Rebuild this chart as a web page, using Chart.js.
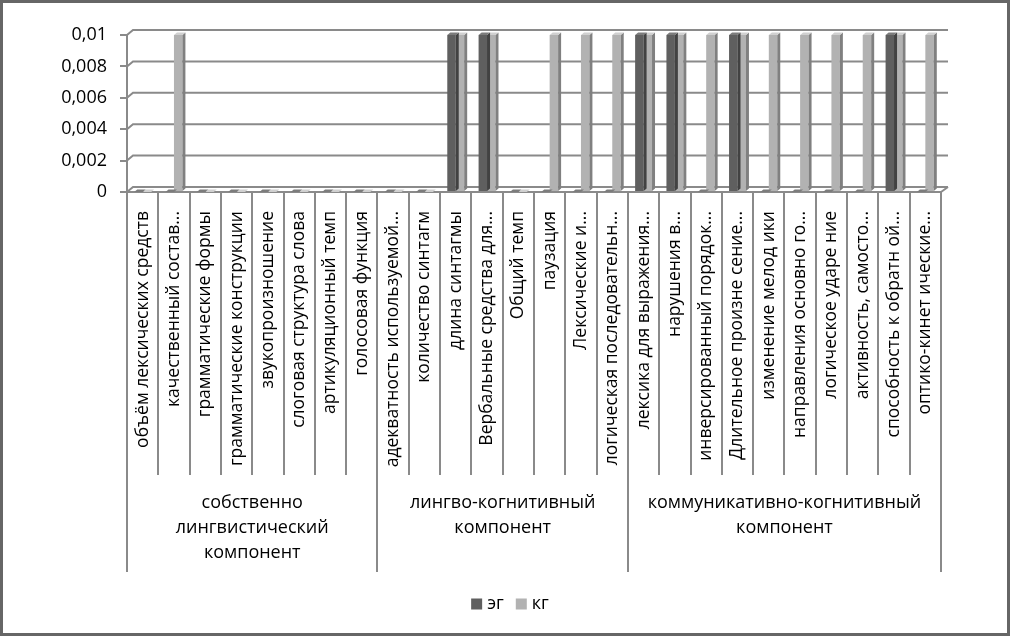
<!DOCTYPE html>
<html>
<head>
<meta charset="utf-8">
<script src="https://cdn.jsdelivr.net/npm/chart.js@4"></script>
<style>
  html, body { margin: 0; padding: 0; background: #fff; }
  #wrap { width: 1010px; height: 636px; }
</style>
</head>
<body>
<div id="wrap"><canvas id="chart" width="1010" height="636"></canvas></div>
<script>
// categories and values
const categories = [
  'объём лексических средств',
  'качественный состав...',
  'грамматические формы',
  'грамматические конструкции',
  'звукопроизношение',
  'слоговая структура слова',
  'артикуляционный темп',
  'голосовая функция',
  'адекватность используемой...',
  'количество синтагм',
  'длина синтагмы',
  'Вербальные средства для...',
  'Общий темп',
  'паузация',
  'Лексические и...',
  'логическая последовательн...',
  'лексика для выражения...',
  'нарушения в...',
  'инверсированный порядок...',
  'Длительное произне сение...',
  'изменение мелод ики',
  'направления основно го...',
  'логическое ударе ние',
  'активность, самосто...',
  'способность к обратн ой...',
  'оптико-кинет ические...'
];
const seriesNames = ['эг', 'кг'];
const egValues = [0, 0, 0, 0, 0, 0, 0, 0, 0, 0, 0.01, 0.01, 0, 0, 0, 0, 0.01, 0.01, 0, 0.01, 0, 0, 0, 0, 0.01, 0];
const kgValues = [0, 0.01, 0, 0, 0, 0, 0, 0, 0, 0, 0.01, 0.01, 0, 0.01, 0.01, 0.01, 0.01, 0.01, 0.01, 0.01, 0.01, 0.01, 0.01, 0.01, 0.01, 0.01];
const yTicks = [0, 0.002, 0.004, 0.006, 0.008, 0.01];
const groupLabels = [
  ['собственно', 'лингвистический', 'компонент'],
  ['лингво-когнитивный', 'компонент'],
  ['коммуникативно-когнитивный', 'компонент']
];
const groupSizes = [8, 8, 10];

const GRID = '#8a8a8a';
const FONT = 'Open Sans';
Chart.defaults.font.family = FONT;
Chart.defaults.color = '#000';

// side / top faces to fake the 3d look of the bars
const faces = [
  { top: '#7c7c7c', side: '#424242' },
  { top: '#d0d0d0', side: '#808080' }
];
const DX = 3, DY = 2.5;

const bar3d = {
  id: 'bar3d',
  afterDatasetDraw(chart, args) {
    const ctx = chart.ctx;
    const f = faces[args.index];
    args.meta.data.forEach(bar => {
      const p = bar.getProps(['x', 'y', 'base', 'width'], true);
      const l = p.x - p.width / 2, r = p.x + p.width / 2;
      ctx.save();
      ctx.fillStyle = f.side;
      ctx.beginPath();
      ctx.moveTo(r, p.y); ctx.lineTo(r + DX, p.y - DY);
      ctx.lineTo(r + DX, p.base - DY); ctx.lineTo(r, p.base);
      ctx.closePath(); ctx.fill();
      ctx.fillStyle = f.top;
      ctx.beginPath();
      ctx.moveTo(l, p.y); ctx.lineTo(l + DX, p.y - DY);
      ctx.lineTo(r + DX, p.y - DY); ctx.lineTo(r, p.y);
      ctx.closePath(); ctx.fill();
      ctx.restore();
    });
  }
};

// back wall grid, floor edge, label cells, group labels, legend, frame
const decor = {
  id: 'decor',
  beforeDraw(chart) {
    const ctx = chart.ctx;
    ctx.save();
    ctx.fillStyle = '#fff';
    ctx.fillRect(0, 0, chart.width, chart.height);
    ctx.restore();
  },
  beforeDatasetsDraw(chart) {
    const ctx = chart.ctx;
    const ys = chart.scales.y;
    const a = chart.chartArea;
    ctx.save();
    ctx.strokeStyle = GRID;
    ctx.lineWidth = 2;
    yTicks.forEach(v => {
      const y = ys.getPixelForValue(v);
      ctx.beginPath();
      ctx.moveTo(a.left, y);
      ctx.lineTo(a.left + 6, y - 5);
      ctx.lineTo(a.right + 7, y - 5);
      ctx.stroke();
    });
    ctx.beginPath();
    ctx.moveTo(a.right, a.bottom);
    ctx.lineTo(a.right + 7, a.bottom - 5);
    ctx.stroke();
    ctx.restore();
  },
  afterDraw(chart) {
    const ctx = chart.ctx;
    const xs = chart.scales.x;
    const a = chart.chartArea;
    const w = xs.getPixelForValue(1) - xs.getPixelForValue(0);
    const x0 = xs.getPixelForValue(0) - w / 2;
    ctx.save();
    ctx.strokeStyle = GRID;
    ctx.lineWidth = 2;
    const groupEdges = [0];
    groupSizes.forEach(s => groupEdges.push(groupEdges[groupEdges.length - 1] + s));
    for (let i = 0; i <= categories.length; i++) {
      const x = Math.round(x0 + i * w);
      const isGroup = groupEdges.includes(i);
      ctx.beginPath();
      ctx.moveTo(x, a.bottom);
      ctx.lineTo(x, isGroup ? 572 : 475);
      ctx.stroke();
    }
    // group captions
    ctx.fillStyle = '#000';
    ctx.font = '18px "' + FONT + '"';
    ctx.textAlign = 'center';
    ctx.textBaseline = 'middle';
    groupLabels.forEach((lines, g) => {
      const cx = x0 + (groupEdges[g] + groupEdges[g + 1]) / 2 * w;
      lines.forEach((t, k) => ctx.fillText(t, cx, 503 + k * 25));
    });
    // legend
    ctx.font = '18px "' + FONT + '"';
    ctx.textAlign = 'left';
    const box = 11, gap = 5, itemGap = 12;
    const items = chart.data.datasets.map(d => ({ text: d.label, color: d.backgroundColor }));
    let total = 0;
    items.forEach((it, i) => {
      it.w = box + gap + ctx.measureText(it.text).width;
      total += it.w + (i ? itemGap : 0);
    });
    let lx = chart.width / 2 + 5 - total / 2;
    const ly = 604;
    items.forEach(it => {
      ctx.fillStyle = it.color;
      ctx.fillRect(lx, ly - box / 2, box, box);
      ctx.fillStyle = '#000';
      ctx.fillText(it.text, lx + box + gap, ly);
      lx += it.w + itemGap;
    });
    // outer frame
    ctx.strokeStyle = '#666';
    ctx.lineWidth = 3;
    ctx.strokeRect(1.5, 1.5, chart.width - 3, chart.height - 3);
    ctx.restore();
  }
};

new Chart(document.getElementById('chart'), {
  type: 'bar',
  data: {
    labels: categories,
    datasets: [
      { label: seriesNames[0], data: egValues, backgroundColor: '#5f5f5f' },
      { label: seriesNames[1], data: kgValues, backgroundColor: '#b2b2b2' }
    ]
  },
  options: {
    responsive: false,
    animation: false,
    devicePixelRatio: 1,
    categoryPercentage: 0.54,
    barPercentage: 1.0,
    layout: { padding: { top: 35, right: 69, bottom: 0, left: 0 } },
    plugins: {
      legend: { display: false },
      tooltip: { enabled: false }
    },
    scales: {
      x: {
        grid: { display: false },
        border: { display: true, color: GRID, width: 2 },
        ticks: {
          autoSkip: false,
          maxRotation: 90,
          minRotation: 90,
          padding: 11,
          color: '#000',
          font: { size: 17.5 }
        },
        afterFit(scale) { scale.height = 444; }
      },
      y: {
        min: 0,
        max: 0.01,
        grid: { drawOnChartArea: false, drawTicks: true, tickLength: 7, color: GRID, lineWidth: 2 },
        border: { display: true, color: GRID, width: 2 },
        ticks: {
          padding: 13,
          color: '#000',
          font: { size: 18 },
          callback: v => String(parseFloat(v.toFixed(3))).replace('.', ',')
        },
        afterBuildTicks(scale) { scale.ticks = yTicks.map(v => ({ value: v })); },
        afterFit(scale) { scale.width = 127; }
      }
    }
  },
  plugins: [bar3d, decor]
});
</script>
</body>
</html>
